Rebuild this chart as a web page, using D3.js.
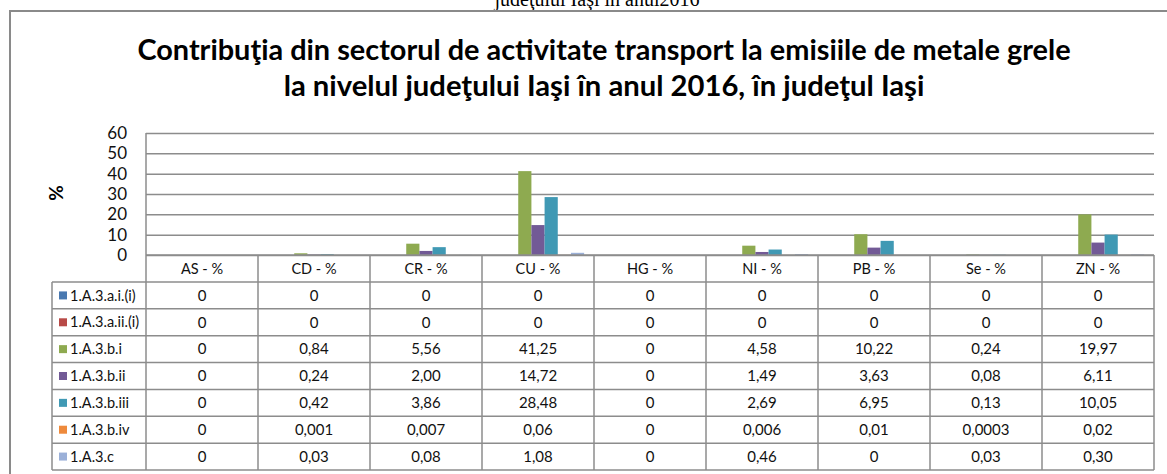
<!DOCTYPE html>
<html>
<head>
<meta charset="utf-8">
<script src="https://cdn.jsdelivr.net/npm/d3@7/dist/d3.min.js"></script>
<style>
  body { margin: 0; background: #fff; }
  svg { display: block; font-family: Lato, 'Open Sans', sans-serif; }
</style>
</head>
<body>
<div id="chart"></div>
<script>
// categories (table header) and series (table rows), values as printed in the table
const categories = ['AS - %', 'CD - %', 'CR - %', 'CU - %', 'HG - %', 'NI - %', 'PB - %', 'Se - %', 'ZN - %'];
const seriesNames = ['1.A.3.a.i.(i)', '1.A.3.a.ii.(i)', '1.A.3.b.i', '1.A.3.b.ii', '1.A.3.b.iii', '1.A.3.b.iv', '1.A.3.c'];
const aii = ['0', '0', '0', '0', '0', '0', '0', '0', '0'];
const aiii = ['0', '0', '0', '0', '0', '0', '0', '0', '0'];
const bi = ['0', '0,84', '5,56', '41,25', '0', '4,58', '10,22', '0,24', '19,97'];
const bii = ['0', '0,24', '2,00', '14,72', '0', '1,49', '3,63', '0,08', '6,11'];
const biii = ['0', '0,42', '3,86', '28,48', '0', '2,69', '6,95', '0,13', '10,05'];
const biv = ['0', '0,001', '0,007', '0,06', '0', '0,006', '0,01', '0,0003', '0,02'];
const c = ['0', '0,03', '0,08', '1,08', '0', '0,46', '0', '0,03', '0,30'];
const yTicks = [0, 10, 20, 30, 40, 50, 60];
const titleLines = ['Contribuţia din sectorul de activitate transport la emisiile de metale grele',
  'la nivelul judeţului Iaşi în anul 2016, în judeţul Iaşi'];
const headerText = 'judeţului Iaşi în anul2016';

const rows = [aii, aiii, bi, bii, biii, biv, c];
const colors = ['#4978B0', '#B84A47', '#8EAA50', '#725A96', '#4099B4', '#EE8A3C', '#9BB0D8'];
const num = s => +s.replace(',', '.');

const width = 1167, height = 474;
const plot = {left: 146, right: 1154, top: 133, bottom: 255};
const table = {legendLeft: 52, headTop: 255, headBottom: 282, bottom: 470};
const rowH = (table.bottom - table.headBottom) / seriesNames.length;

const svg = d3.select('#chart').append('svg').attr('width', width).attr('height', height);

// caption of the page above the chart, cut off by the top edge as in the source
svg.append('text').attr('x', 597).attr('y', 6).attr('text-anchor', 'middle')
  .attr('font-family', "'Liberation Serif', 'DejaVu Serif', serif").attr('font-size', 20)
  .text(headerText);

// chart frame (left and top edges visible)
svg.append('path').attr('d', `M10,${height}V11H${width}`).attr('fill', 'none')
  .attr('stroke', '#8a8a8a').attr('stroke-width', 2);

// TITLE
const titleTargets = [{y: 60, w: 934}, {y: 96, w: 641}];
titleLines.forEach((t, i) => {
  const el = svg.append('text').attr('x', 604).attr('y', titleTargets[i].y)
    .attr('text-anchor', 'middle').attr('font-weight', 'bold').attr('font-size', 24)
    .attr('fill', '#000').text(t);
  const len = el.node().getComputedTextLength();
  el.attr('font-size', 24 * titleTargets[i].w / len);
});

// SCALES
const x = d3.scaleBand().domain(categories).range([plot.left, plot.right]);
const xs = d3.scaleBand().domain(seriesNames).range([0, x.bandwidth()]).paddingInner(0).paddingOuter(0.75);
const y = d3.scaleLinear().domain([0, 60]).range([plot.bottom, plot.top]);

// Y AXIS + GRID
const gy = svg.append('g').attr('transform', `translate(${plot.left},0)`)
  .call(d3.axisLeft(y).tickValues(yTicks).tickSize(-(plot.right - plot.left)).tickPadding(19));
gy.select('.domain').remove();
gy.selectAll('line').attr('stroke', '#8c8c8c').attr('stroke-width', 1.5);
gy.selectAll('text').attr('font-family', 'Lato, sans-serif').attr('font-size', 17).attr('fill', '#111');

svg.append('text').attr('transform', `translate(63,193) rotate(-90)`).attr('text-anchor', 'middle')
  .attr('font-weight', 'bold').attr('font-size', 19).text('%');

// BARS
seriesNames.forEach((name, si) => {
  svg.append('g').selectAll('rect').data(rows[si]).enter().append('rect')
    .attr('x', (d, i) => x(categories[i]) + xs(name))
    .attr('width', xs.bandwidth())
    .attr('y', d => y(num(d)))
    .attr('height', d => y(0) - y(num(d)))
    .attr('fill', colors[si]);
});

// DATA TABLE
const tg = svg.append('g').attr('stroke', '#8c8c8c').attr('stroke-width', 1.5);
tg.append('line').attr('x1', plot.left).attr('x2', plot.left).attr('y1', plot.top).attr('y2', table.bottom);
categories.forEach(cat => {
  tg.append('line').attr('x1', x(cat) + x.bandwidth()).attr('x2', x(cat) + x.bandwidth())
    .attr('y1', table.headTop).attr('y2', table.bottom);
});
tg.append('line').attr('x1', table.legendLeft).attr('x2', table.legendLeft)
  .attr('y1', table.headBottom).attr('y2', table.bottom);
tg.append('line').attr('x1', plot.left).attr('x2', plot.right).attr('y1', table.headTop).attr('y2', table.headTop);
d3.range(seriesNames.length + 1).forEach(r => {
  const yy = table.headBottom + r * rowH;
  tg.append('line').attr('x1', table.legendLeft).attr('x2', plot.right).attr('y1', yy).attr('y2', yy);
});

svg.append('g').selectAll('text').data(categories).enter().append('text')
  .attr('x', d => x(d) + x.bandwidth() / 2).attr('y', (table.headTop + table.headBottom) / 2)
  .attr('dy', '0.35em').attr('text-anchor', 'middle').attr('font-size', 14.5).attr('fill', '#111')
  .text(d => d);

seriesNames.forEach((name, si) => {
  const cy = table.headBottom + (si + 0.5) * rowH;
  svg.append('rect').attr('x', 59).attr('y', cy - 4).attr('width', 8).attr('height', 8).attr('fill', colors[si]);
  svg.append('text').attr('x', 70).attr('y', cy).attr('dy', '0.35em').attr('font-size', 14.5)
    .attr('fill', '#111').text(name);
  svg.append('g').selectAll('text').data(rows[si]).enter().append('text')
    .attr('x', (d, i) => x(categories[i]) + x.bandwidth() / 2).attr('y', cy).attr('dy', '0.35em')
    .attr('text-anchor', 'middle').attr('font-size', 15).attr('fill', '#111').text(d => d);
});
</script>
</body>
</html>
